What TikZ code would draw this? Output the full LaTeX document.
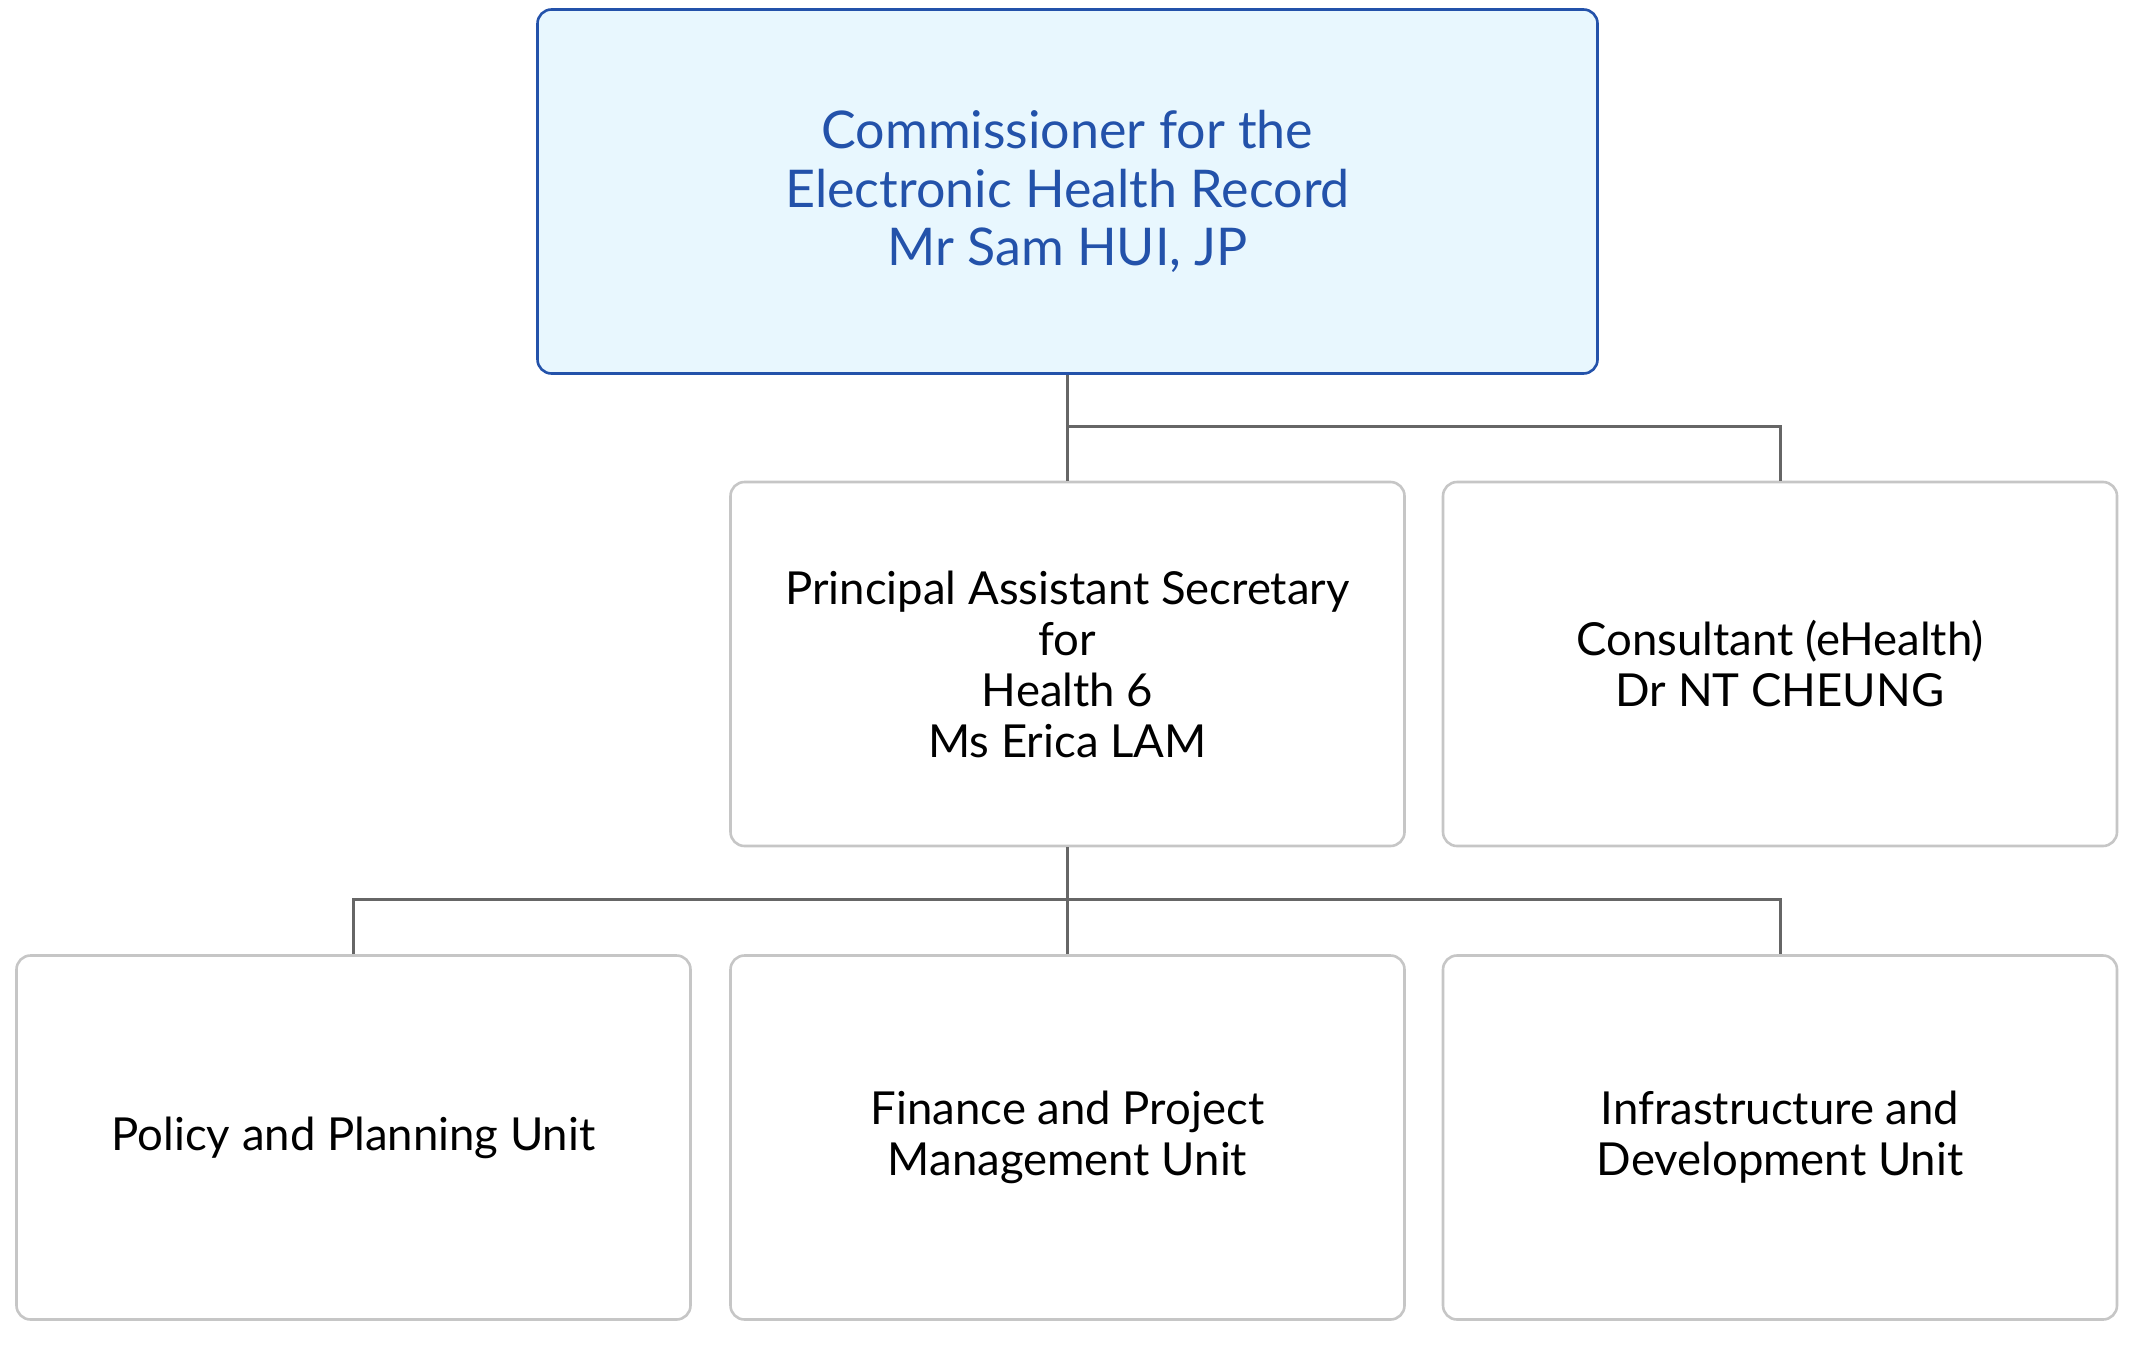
\documentclass[tikz,border=0pt]{standalone}
\usepackage{fontspec}
\setmainfont{Lato}
\definecolor{topfill}{HTML}{E8F7FE}
\definecolor{topline}{HTML}{2352AA}
\definecolor{boxline}{HTML}{C6C6C6}
\definecolor{conn}{HTML}{666666}
\begin{document}
\begin{tikzpicture}[x=1pt,y=-1pt,
  orgbox/.style={draw=boxline,line width=2.6pt,rounded corners=14pt,fill=white,
    minimum width=674pt,minimum height=364pt,inner sep=0pt,align=center,
    font=\fontsize{45.5}{51}\selectfont,text=black},
  topbox/.style={orgbox,draw=topline,fill=topfill,text=topline,minimum width=1060pt,
    font=\fontsize{52}{58.5}\selectfont},
  link/.style={draw=conn,line width=3pt}]
\useasboundingbox (0,0) rectangle (2133,1344);
\node[topbox] (top) at (1067.5,191.5) {Commissioner for the\\Electronic Health Record\\Mr Sam HUI, JP};
\node[orgbox] (pas) at (1067.5,664) {Principal Assistant Secretary\\for\\Health 6\\Ms Erica LAM};
\node[orgbox] (cons) at (1780,664) {Consultant (eHealth)\\Dr NT CHEUNG};
\node[orgbox] (pol) at (353.5,1137.5) {Policy and Planning Unit};
\node[orgbox] (fin) at (1067.5,1137.5) {Finance and Project\\Management Unit};
\node[orgbox] (inf) at (1780,1137.5) {Infrastructure and\\Development Unit};
\coordinate (j1) at (1067.5,426);
\coordinate (j2) at (1067.5,899);
\draw[link] (top.south) -- (j1) -- (pas.north);
\draw[link] (j1) -| (cons.north);
\draw[link] (pas.south) -- (j2) -- (fin.north);
\draw[link] (j2) -| (pol.north);
\draw[link] (j2) -| (inf.north);
\end{tikzpicture}
\end{document}
